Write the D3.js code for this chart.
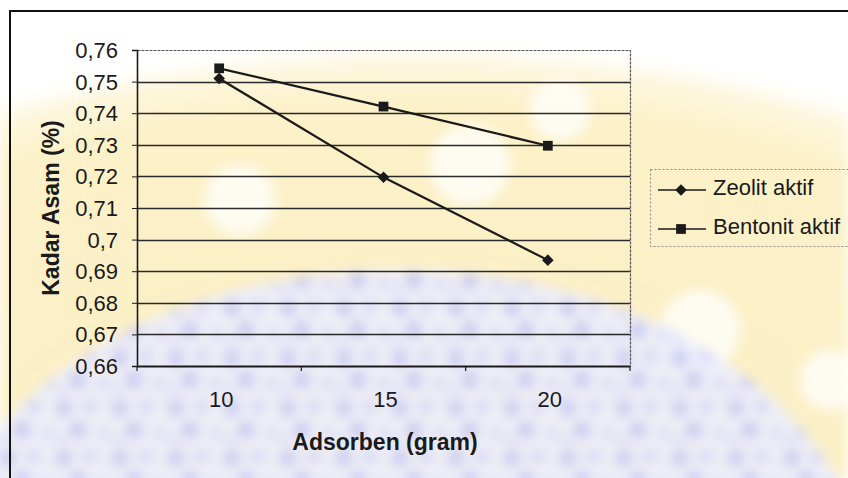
<!DOCTYPE html>
<html>
<head>
<meta charset="utf-8">
<script src="https://cdn.jsdelivr.net/npm/d3@7/dist/d3.min.js"></script>
<style>
  html, body { margin: 0; padding: 0; background: #fff; }
  svg { display: block; font-family: "Liberation Sans", Arial, sans-serif; }
</style>
</head>
<body>
<svg id="chart" width="848" height="478"></svg>
<script>
// Adsorbent mass (gram) on the category axis
const categories = ["10", "15", "20"];
// Acid content (%) per adsorbent
const zeolit = [0.751, 0.7197, 0.6935];
const bentonit = [0.7542, 0.7421, 0.7297];
const seriesNames = ["Zeolit aktif", "Bentonit aktif"];
// Value axis ticks and their labels (decimal comma)
const yTicks = [0.66, 0.67, 0.68, 0.69, 0.70, 0.71, 0.72, 0.73, 0.74, 0.75, 0.76];
const yTickLabels = ["0,66", "0,67", "0,68", "0,69", "0,7", "0,71", "0,72", "0,73", "0,74", "0,75", "0,76"];

const W = 848, H = 478;
const plot = { left: 137, right: 630, top: 50, bottom: 366 };
const ink = "#1a1a1a";

const svg = d3.select("#chart");
const defs = svg.append("defs");

// ---- faint background emblem ----
const blur = defs.append("filter").attr("id", "soft").attr("x", "-20%").attr("y", "-20%")
  .attr("width", "140%").attr("height", "140%");
blur.append("feGaussianBlur").attr("stdDeviation", 6);

const ring = defs.append("radialGradient").attr("id", "sunRing")
  .attr("gradientUnits", "userSpaceOnUse")
  .attr("cx", 0).attr("cy", 0).attr("r", 1)
  .attr("gradientTransform", "translate(420,500) scale(900,470)");
ring.append("stop").attr("offset", "0%").attr("stop-color", "#fbefc2");
ring.append("stop").attr("offset", "84%").attr("stop-color", "#fcf1c8");
ring.append("stop").attr("offset", "92%").attr("stop-color", "#fdf6dc");
ring.append("stop").attr("offset", "97%").attr("stop-color", "#ffffff");

const dots = defs.append("pattern").attr("id", "dots").attr("patternUnits", "userSpaceOnUse")
  .attr("width", 56).attr("height", 50);
dots.append("rect").attr("width", 56).attr("height", 50).attr("fill", "#eceefc");
[[8, 8, 8, "#bfc2f3"], [34, 6, 7, "#cfd1f6"], [22, 30, 9, "#c3c6f4"], [48, 34, 6, "#d4d6f7"], [6, 40, 5, "#d8daf8"]]
  .forEach(([x0, y0, r, c]) => dots.append("circle").attr("cx", x0).attr("cy", y0).attr("r", r).attr("fill", c));

const bg = svg.append("g").attr("filter", "url(#soft)");
bg.append("rect").attr("x", 0).attr("y", 0).attr("width", W).attr("height", H).attr("fill", "url(#sunRing)");
// pale highlights inside the emblem
[[470, 165, 40], [240, 200, 35], [700, 330, 40], [830, 380, 30], [560, 110, 30]].forEach(([cx, cy, r]) => {
  bg.append("circle").attr("cx", cx).attr("cy", cy).attr("r", r).attr("fill", "#fff").attr("opacity", 0.75);
});
bg.append("ellipse").attr("cx", 400).attr("cy", 600).attr("rx", 470).attr("ry", 330)
  .attr("fill", "url(#dots)").attr("opacity", 0.9);

// ---- outer frame ----
svg.append("rect").attr("x", 10).attr("y", 11).attr("width", W + 20).attr("height", H + 20)
  .attr("fill", "none").attr("stroke", "#111").attr("stroke-width", 2);

// ---- scales ----
const x = d3.scaleBand().domain(categories).range([plot.left, plot.right]).padding(0);
const y = d3.scaleLinear().domain([0.66, 0.76]).range([plot.bottom, plot.top]);

// gridlines
svg.append("g").selectAll("line").data(yTicks.slice(1, -1)).join("line")
  .attr("x1", plot.left).attr("x2", plot.right)
  .attr("y1", d => Math.round(y(d)) + 0.5).attr("y2", d => Math.round(y(d)) + 0.5)
  .attr("stroke", "#2a2a2a").attr("stroke-width", 1.3);

// plot area border
svg.append("rect").attr("x", plot.left + 0.5).attr("y", plot.top + 0.5)
  .attr("width", plot.right - plot.left).attr("height", plot.bottom - plot.top)
  .attr("fill", "none").attr("stroke", "#555").attr("stroke-width", 1.2).attr("stroke-dasharray", "3,1");

// y axis
const yAxis = d3.axisLeft(y).tickValues(yTicks).tickSize(5)
  .tickFormat((d, i) => yTickLabels[i]);
const gy = svg.append("g").attr("transform", `translate(${plot.left},0)`).call(yAxis);
gy.select(".domain").attr("stroke", ink).attr("stroke-width", 1.5);
gy.selectAll(".tick line").attr("stroke", ink);
gy.selectAll(".tick text").attr("x", -19).attr("dy", "0.34em")
  .attr("font-size", 22).attr("fill", ink).attr("font-family", "'Liberation Sans', Arial, sans-serif");

// x axis: ticks on category boundaries
const gx = svg.append("g").attr("transform", `translate(0,${plot.bottom})`);
gx.append("line").attr("x1", plot.left).attr("x2", plot.right).attr("y1", 0.5).attr("y2", 0.5)
  .attr("stroke", ink).attr("stroke-width", 1.8);
const edges = categories.map(c => x(c)).concat([x(categories[categories.length - 1]) + x.bandwidth()]);
gx.selectAll("line.tk").data(edges).join("line").attr("class", "tk")
  .attr("x1", d => d).attr("x2", d => d).attr("y1", 0).attr("y2", 5)
  .attr("stroke", ink).attr("stroke-width", 1.2);
gx.selectAll("text").data(categories).join("text")
  .attr("x", d => x(d) + x.bandwidth() / 2 + 2).attr("y", 41)
  .attr("text-anchor", "middle").attr("font-size", 22).attr("fill", ink).text(d => d);

// axis titles
svg.append("text").attr("transform", `translate(59,208) rotate(-90)`)
  .attr("text-anchor", "middle").attr("font-size", 23).attr("font-weight", "bold").attr("fill", ink)
  .text("Kadar Asam (%)");
svg.append("text").attr("x", 385).attr("y", 450)
  .attr("text-anchor", "middle").attr("font-size", 23).attr("font-weight", "bold").attr("fill", ink)
  .text("Adsorben (gram)");

// ---- series ----
const cx = d => x(d) + x.bandwidth() / 2;
const line = d3.line().x(d => cx(d.c)).y(d => y(d.v));
const zData = categories.map((c, i) => ({ c, v: zeolit[i] }));
const bData = categories.map((c, i) => ({ c, v: bentonit[i] }));

const diamond = d3.symbol().type(d3.symbolDiamond2).size(85);
const square = d3.symbol().type(d3.symbolSquare).size(95);

svg.append("path").datum(bData).attr("d", line).attr("fill", "none")
  .attr("stroke", ink).attr("stroke-width", 2.2);
svg.append("path").datum(zData).attr("d", line).attr("fill", "none")
  .attr("stroke", ink).attr("stroke-width", 2.2);
svg.append("g").selectAll("path").data(bData).join("path")
  .attr("transform", d => `translate(${cx(d.c)},${y(d.v)})`).attr("d", square).attr("fill", ink);
svg.append("g").selectAll("path").data(zData).join("path")
  .attr("transform", d => `translate(${cx(d.c)},${y(d.v)})`).attr("d", diamond).attr("fill", ink);

// ---- legend ----
const lg = svg.append("g");
lg.append("rect").attr("x", 650.5).attr("y", 169.5).attr("width", 240).attr("height", 77)
  .attr("fill", "none").attr("stroke", "#888").attr("stroke-width", 1).attr("stroke-dasharray", "2,2");
const symbols = [diamond, square];
seriesNames.forEach((name, i) => {
  const ly = 190 + i * 39;
  lg.append("line").attr("x1", 658).attr("x2", 706).attr("y1", ly).attr("y2", ly)
    .attr("stroke", ink).attr("stroke-width", 1.6);
  lg.append("path").attr("transform", `translate(681,${ly})`).attr("d", symbols[i]).attr("fill", ink);
  lg.append("text").attr("x", 713).attr("y", ly + 5).attr("font-size", 22).attr("fill", ink).text(name);
});
</script>
</body>
</html>
